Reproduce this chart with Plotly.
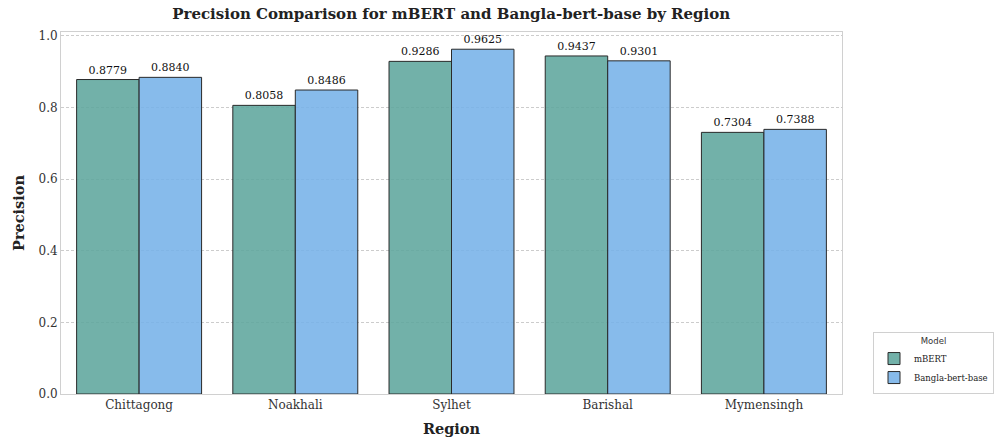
import plotly.graph_objects as go

regions = ["Chittagong", "Noakhali", "Sylhet", "Barishal", "Mymensingh"]
mbert = [0.8779, 0.8058, 0.9286, 0.9437, 0.7304]
bangla = [0.8840, 0.8486, 0.9625, 0.9301, 0.7388]
series_names = ["mBERT", "Bangla-bert-base"]
colors = ["rgba(95,166,157,0.88)", "rgba(118,178,232,0.88)"]

fig = go.Figure()
for name, vals, col in zip(series_names, [mbert, bangla], colors):
    fig.add_trace(go.Bar(
        x=regions, y=vals, name=name,
        marker=dict(color=col, line=dict(color="#2a2a2a", width=1)),
        text=[f"{v:.4f}" for v in vals], textposition="outside",
        textfont=dict(family="DejaVu Serif", size=11, color="#111"),
        cliponaxis=False,
    ))

fig.update_layout(
    width=995, height=443,
    margin=dict(l=61, r=153, t=32, b=49, autoexpand=False),
    plot_bgcolor="white", paper_bgcolor="white",
    barmode="group", bargap=0.2, bargroupgap=0,
    font=dict(family="DejaVu Serif", color="#333"),
    title=dict(text="<b>Precision Comparison for mBERT and Bangla-bert-base by Region</b>",
               x=0.4535, xanchor="center", y=0.968, yanchor="middle",
               font=dict(family="DejaVu Serif", size=15, color="#222")),
    xaxis=dict(title=dict(text="<b>Region</b>", font=dict(size=14.5, color="#222"), standoff=12),
               tickfont=dict(size=12, color="#333"), showline=True, linecolor="#d0d0d0",
               mirror=True, showgrid=False, ticks="", ticklen=0, automargin=False),
    yaxis=dict(title=dict(text="<b>Precision</b>", font=dict(size=14.5, color="#222"), standoff=10),
               range=[0, 1.0106], tickvals=[0, 0.2, 0.4, 0.6, 0.8, 1.0],
               ticktext=["0.0", "0.2", "0.4", "0.6", "0.8", "1.0"],
               tickfont=dict(size=12, color="#333"), showline=True, linecolor="#d0d0d0",
               mirror=True, showgrid=True, gridcolor="#cccccc", griddash="3px,2px", gridwidth=0.8,
               zeroline=False, automargin=False),
    legend=dict(title=dict(text="Model", side="top center", font=dict(family="DejaVu Sans", size=8.5, color="#333")),
                x=(994 - 61) / 781, xref="paper", xanchor="right", y=0, yanchor="bottom",
                bordercolor="#d0d0d0", borderwidth=1, bgcolor="white",
                font=dict(family="DejaVu Serif", size=8.5, color="#222"),
                itemwidth=30, tracegroupgap=0),
)

fig.write_html("out.html", config={"displayModeBar": False},
               post_script="document.body.style.margin='0';document.body.style.overflow='hidden';")
